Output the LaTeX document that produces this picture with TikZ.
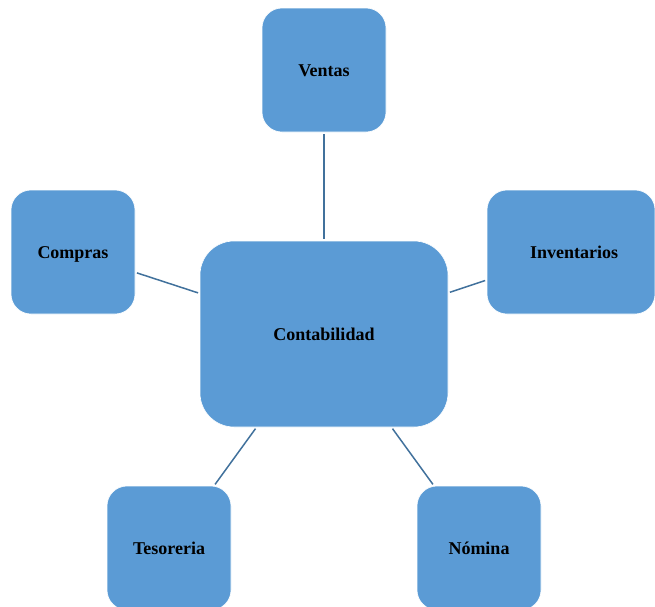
\documentclass[tikz,border=0pt]{standalone}
\usepackage{fontspec}
\setmainfont{Liberation Serif}
\definecolor{boxfill}{RGB}{91,155,213}
\definecolor{linkblue}{RGB}{65,113,156}
\begin{document}
\begin{tikzpicture}[x=1pt,y=-1pt,
  unit/.style={rectangle, rounded corners=20pt, fill=boxfill, draw=white,
    line width=0.6pt, outer sep=0pt, minimum width=124pt, minimum height=124pt,
    text height=12pt, text depth=0pt,
    font=\fontsize{18}{20}\selectfont\bfseries, text=black},
  link/.style={draw=linkblue, line width=1.5pt, shorten <=2pt, shorten >=2pt}]
  \useasboundingbox (0,0) rectangle (655,606);
  \clip (0,0) rectangle (655,606);
  % central unit
  \node[unit, rounded corners=34pt, minimum width=248pt, minimum height=186pt] (conta) at (324,334) {Contabilidad};
  % surrounding units
  \node[unit] (ventas) at (324,70) {Ventas};
  \node[unit] (compras) at (73,252) {Compras};
  \node[unit, minimum width=168pt] (inv) at (571,252) {\hspace*{6pt}Inventarios};
  \node[unit] (teso) at (169,548) {Tesoreria};
  \node[unit] (nomina) at (479,548) {Nómina};
  % links to the center
  \path[link] (ventas) -- (conta);
  \path[link] (compras) -- (conta);
  \path[link] (inv) -- (conta);
  \path[link] (teso) -- (conta);
  \path[link] (nomina) -- (conta);
\end{tikzpicture}
\end{document}
